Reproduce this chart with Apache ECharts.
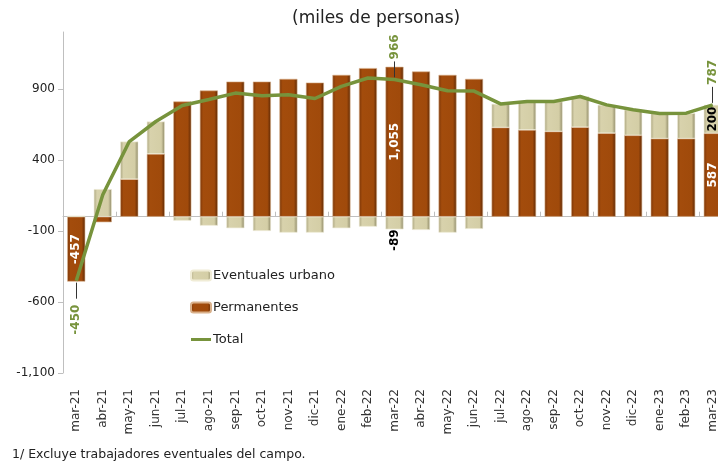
<!DOCTYPE html>
<html>
<head>
<meta charset="utf-8">
<script src="https://cdn.jsdelivr.net/npm/echarts@6/dist/echarts.min.js"></script>
<style>
  html, body { margin: 0; padding: 0; background: #fff; overflow: hidden; }
  /* el gráfico original está recortado a la derecha: el lienzo es más ancho que la ventana */
  #chart { width: 726px; height: 463px; }
</style>
</head>
<body>
<div id="chart"></div>
<script>
// Datos (miles de personas)
const categories = ['mar-21', 'abr-21', 'may-21', 'jun-21', 'jul-21', 'ago-21', 'sep-21', 'oct-21', 'nov-21', 'dic-21',
    'ene-22', 'feb-22', 'mar-22', 'abr-22', 'may-22', 'jun-22', 'jul-22', 'ago-22', 'sep-22', 'oct-22', 'nov-22', 'dic-22',
    'ene-23', 'feb-23', 'mar-23'];
const permanentes = [-457, -39, 264, 442, 811, 888, 951, 951, 970, 944, 998, 1046, 1055, 1022, 998, 970,
    628, 611, 600, 630, 588, 573, 550, 550, 587];
const eventuales = [7, 194, 265, 228, -28, -63, -81, -100, -112, -112, -81, -70, -89, -93, -112, -86,
    166, 200, 211, 216, 199, 180, 177, 179, 200];
const total = [-450, 155, 529, 670, 783, 825, 870, 851, 858, 832, 917, 976, 966, 929, 886, 884,
    794, 811, 811, 846, 787, 753, 727, 729, 787];
const yTicks = [-1100, -600, -100, 400, 900];

// indices con etiqueta
const labeled = [0, 12, 24];

const FONT = 'DejaVu Sans';
const GREEN = '#77933c';
// guía de las etiquetas del total: desde / hasta (en unidades del eje)
const LEADER = [14, 127];
const fmt = v => v.toLocaleString('en-US');

const brownFill = {
    type: 'linear', x: 0, y: 0, x2: 1, y2: 0,
    colorStops: [
        { offset: 0, color: '#7a3508' },
        { offset: 0.18, color: '#a34c0c' },
        { offset: 0.8, color: '#a04a0b' },
        { offset: 1, color: '#5c2805' }
    ]
};
const beigeFill = {
    type: 'linear', x: 0, y: 0, x2: 1, y2: 0,
    colorStops: [
        { offset: 0, color: '#aaa47f' },
        { offset: 0.18, color: '#d8d2ac' },
        { offset: 0.8, color: '#d4cea6' },
        { offset: 1, color: '#8c8765' }
    ]
};

function rotLabel(color, extra) {
    return Object.assign({
        show: true, rotate: 90, color: color, fontFamily: FONT,
        fontWeight: 'bold', fontSize: 12,
        formatter: p => fmt(p.value)
    }, extra);
}

const permData = permanentes.map((v, i) => {
    if (labeled.indexOf(i) < 0) return v;
    return { value: v, label: rotLabel('#fff', { position: 'inside' }) };
});

const evData = eventuales.map((v, i) => {
    if (i === 12) return { value: v, label: rotLabel('#000', { position: 'bottom', distance: 0, align: 'right', verticalAlign: 'middle' }) };
    if (i === 24) return { value: v, label: rotLabel('#000', { position: 'inside' }) };
    return v;
});

const totalData = total.map((v, i) => {
    if (i === 0) return { value: v, label: rotLabel(GREEN, { position: 'bottom', distance: 24, align: 'right', verticalAlign: 'middle' }) };
    if (i === 12 || i === 24) return { value: v, label: rotLabel(GREEN, { position: 'top', distance: 20, align: 'left', verticalAlign: 'middle' }) };
    return v;
});

// líneas guía entre el punto y su etiqueta
const leaders = labeled.map(i => {
    const s = total[i] < 0 ? -1 : 1;
    return [{ coord: [categories[i], total[i] + s * LEADER[0]] },
            { coord: [categories[i], total[i] + s * LEADER[1]] }];
});

var chartDom = document.getElementById('chart');
var myChart = echarts.init(chartDom);
var option = {
    animation: false,
    title: {
        text: '(miles de personas)',
        left: 287, top: 5,
        textStyle: { fontFamily: FONT, fontWeight: 'normal', fontSize: 17, color: '#222' }
    },
    graphic: [{
        type: 'text', left: 12, top: 448,
        style: { text: '1/ Excluye trabajadores eventuales del campo.', fontFamily: FONT, fontSize: 12.5, fill: '#222' }
    }],
    legend: {
        orient: 'vertical', left: 185, top: 264,
        itemWidth: 20, itemHeight: 10, itemGap: 19,
        data: ['Eventuales urbano', 'Permanentes',
            { name: 'Total', icon: 'path://M0,0 L20,0 L20,3 L0,3 Z', itemStyle: { color: GREEN, opacity: 1 } }],
        textStyle: { fontFamily: FONT, fontSize: 13, color: '#222', padding: [0, 0, 0, -3] }
    },
    grid: { left: 63, right: 0, top: 32, bottom: 90 },
    xAxis: [{
        type: 'category', data: categories, position: 'bottom',
        axisLine: { show: false, onZero: false }, axisTick: { show: false },
        axisLabel: { rotate: 90, margin: 16, fontFamily: FONT, fontSize: 12, color: '#333' }
    }, {
        type: 'category', data: categories,
        axisLine: { onZero: true, lineStyle: { color: '#bfbfbf', width: 1 } },
        axisTick: { show: true, length: 5, inside: false, lineStyle: { color: '#bfbfbf' } },
        axisLabel: { show: false }
    }],
    yAxis: {
        type: 'value', min: -1100, max: 1300, interval: 500,
        axisLine: { show: true, lineStyle: { color: '#bfbfbf' } },
        axisTick: { show: true, length: 5, lineStyle: { color: '#bfbfbf' } },
        splitLine: { show: false },
        axisLabel: {
            showMaxLabel: false, fontFamily: FONT, fontSize: 12, color: '#222',
            formatter: v => yTicks.indexOf(v) >= 0 ? fmt(v) : ''
        }
    },
    series: [{
        name: 'Permanentes', type: 'bar', stack: 'a', barWidth: 18,
        itemStyle: { color: brownFill, borderColor: '#d9b08a', borderWidth: 0.6 },
        data: permData
    }, {
        name: 'Eventuales urbano', type: 'bar', stack: 'a', barWidth: 18,
        itemStyle: { color: beigeFill, borderColor: '#f0ecd6', borderWidth: 0.6 },
        data: evData
    }, {
        // símbolos de tamaño 0: solo sirven para colgar las etiquetas
        name: 'Total', type: 'line', symbol: 'circle', symbolSize: 0, showSymbol: true, z: 5,
        lineStyle: { color: GREEN, width: 3.5 },
        itemStyle: { color: GREEN },
        markLine: {
            silent: true, symbol: 'none', label: { show: false },
            lineStyle: { color: '#333', width: 1, type: 'solid' },
            data: leaders
        },
        data: totalData
    }]
};
myChart.setOption(option);
</script>
</body>
</html>
